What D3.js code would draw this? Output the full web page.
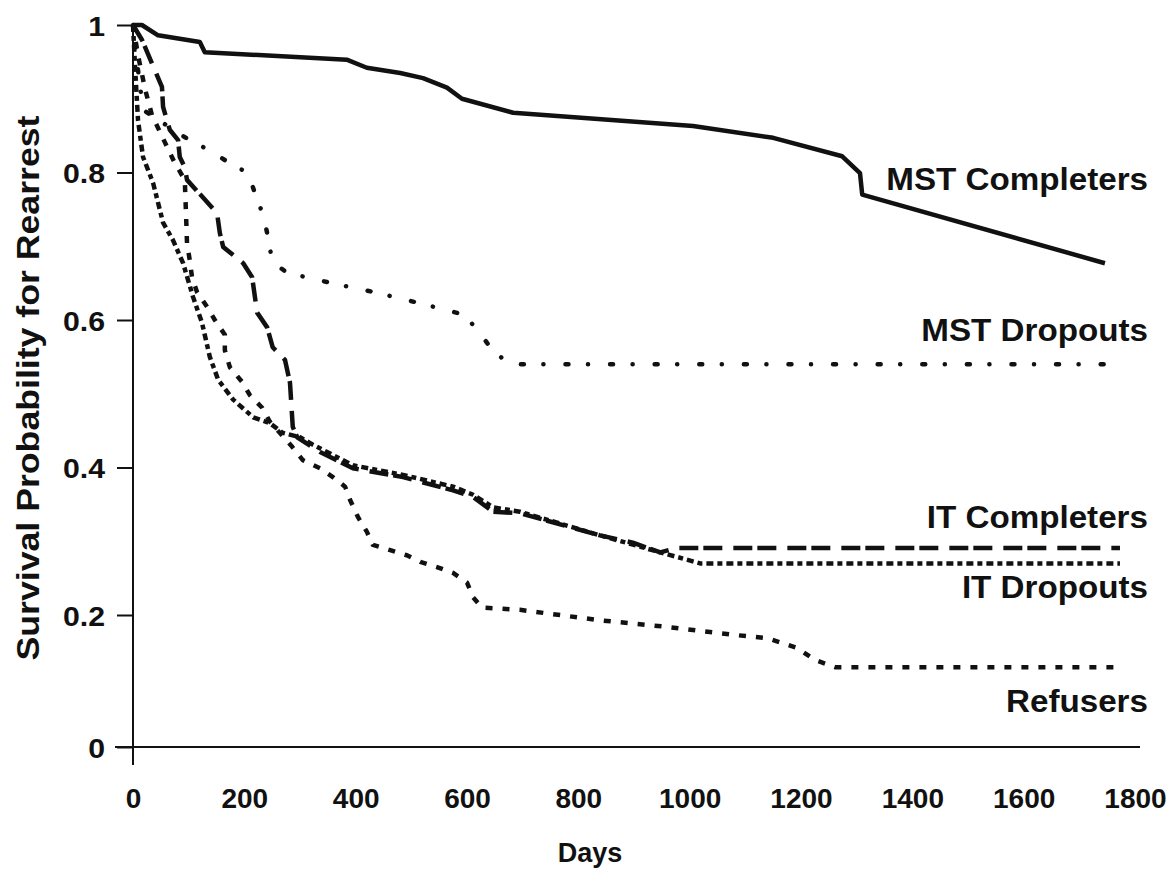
<!DOCTYPE html>
<html>
<head>
<meta charset="utf-8">
<script src="https://cdn.jsdelivr.net/npm/d3@7/dist/d3.min.js"></script>
<style>
  body { margin: 0; background: #fff; }
  text { font-family: "Liberation Sans", Arial, sans-serif; font-weight: bold; fill: #111; }
</style>
</head>
<body>
<div class="div-chart"></div>
<script>
// axis ticks
const xTicks = [0, 200, 400, 600, 800, 1000, 1200, 1400, 1600, 1800];
const yTicks = [0, 0.2, 0.4, 0.6, 0.8, 1];

// survival curves: [days, survival probability]
const mstCompleters = [
  [0, 1], [16, 1], [45, 0.986], [120, 0.977], [129, 0.963], [384, 0.953],
  [420, 0.942], [480, 0.935], [521, 0.928], [564, 0.915], [591, 0.9],
  [683, 0.881], [1006, 0.863], [1150, 0.847], [1274, 0.822], [1306, 0.799],
  [1310, 0.77], [1746, 0.677]
];
const mstDropouts = [
  [0, 1], [9, 0.939], [18, 0.885], [34, 0.877], [99, 0.845], [135, 0.831],
  [171, 0.814], [207, 0.799], [219, 0.772], [234, 0.742], [243, 0.711],
  [250, 0.679], [277, 0.664], [357, 0.65], [438, 0.637], [519, 0.622],
  [596, 0.607], [623, 0.582], [647, 0.558], [677, 0.54], [1764, 0.54]
];
const itCompleters = [
  [0, 1], [16, 0.98], [34, 0.948], [52, 0.916], [54, 0.889], [61, 0.871],
  [66, 0.858], [81, 0.844], [84, 0.821], [93, 0.807], [97, 0.79], [115, 0.775],
  [151, 0.745], [156, 0.718], [162, 0.699], [198, 0.677], [214, 0.658],
  [223, 0.61], [241, 0.59], [251, 0.563], [273, 0.546], [282, 0.515],
  [287, 0.455], [295, 0.441], [336, 0.421], [395, 0.399], [485, 0.387],
  [575, 0.369], [611, 0.36], [647, 0.34], [695, 0.338], [839, 0.308],
  [898, 0.298], [947, 0.285], [977, 0.291], [1773, 0.291]
];
const itDropouts = [
  [0, 1], [4, 0.939], [9, 0.871], [18, 0.821], [36, 0.786], [54, 0.732],
  [72, 0.708], [90, 0.677], [108, 0.631], [124, 0.596], [138, 0.55],
  [153, 0.519], [180, 0.492], [216, 0.468], [246, 0.46], [269, 0.447],
  [300, 0.441], [323, 0.431], [395, 0.403], [485, 0.39], [575, 0.374],
  [611, 0.363], [647, 0.346], [695, 0.34], [839, 0.308], [947, 0.285],
  [1019, 0.27], [1773, 0.27]
];
const refusers = [
  [0, 1], [9, 0.959], [22, 0.912], [34, 0.878], [49, 0.854], [75, 0.813],
  [93, 0.79], [95, 0.749], [97, 0.704], [102, 0.681], [106, 0.658],
  [115, 0.638], [133, 0.618], [147, 0.6], [165, 0.58], [165, 0.559],
  [174, 0.536], [196, 0.516], [210, 0.498], [232, 0.481], [246, 0.462],
  [286, 0.428], [305, 0.41], [336, 0.399], [359, 0.387], [381, 0.374],
  [390, 0.356], [404, 0.333], [420, 0.313], [431, 0.295], [462, 0.288],
  [492, 0.281], [516, 0.272], [546, 0.265], [575, 0.257], [600, 0.244],
  [611, 0.224], [627, 0.21], [695, 0.207], [839, 0.192], [959, 0.182],
  [1078, 0.17], [1139, 0.165], [1193, 0.15], [1225, 0.132], [1261, 0.121],
  [1773, 0.121]
];
const seriesNames = ["MST Completers", "MST Dropouts", "IT Completers", "IT Dropouts", "Refusers"];
const xTitle = "Days";
const yTitle = "Survival Probability for Rearrest";

const width = 1171,
  height = 870;

const svg = d3
  .select(".div-chart")
  .append("svg")
  .attr("width", width)
  .attr("height", height)
  .attr("viewBox", `0 0 ${width} ${height}`);

const x = d3.scaleLinear().domain([0, 1800]).range([133, 1135]);
// the scanned axis is slightly stretched above 0.2, so use a piecewise scale
const y = d3.scaleLinear().domain([0, 0.2, 1]).range([747, 615, 25]);

// the scanned lettering is a bit wider than Liberation Sans, stretch it a little
function widen(sel, k) {
  sel.each(function () {
    const w = this.getComputedTextLength();
    d3.select(this).attr("textLength", w * k).attr("lengthAdjust", "spacingAndGlyphs");
  });
}

// axis lines
svg.append("line")
  .attr("x1", x(0)).attr("x2", x(0))
  .attr("y1", y(1)).attr("y2", y(0) + 18)
  .attr("stroke", "#111").attr("stroke-width", 2);
svg.append("line")
  .attr("x1", x(0) - 18).attr("x2", 1140)
  .attr("y1", y(0)).attr("y2", y(0))
  .attr("stroke", "#111").attr("stroke-width", 2);

const yAxis = svg.append("g")
  .attr("transform", `translate(${x(0)},0)`)
  .call(d3.axisLeft(y).tickValues(yTicks).tickSize(16).tickPadding(12).tickFormat((d) => d));
yAxis.select(".domain").remove();
yAxis.selectAll("line").attr("stroke", "#111").attr("stroke-width", 2);
yAxis.selectAll("text").style("font-size", "28px").attr("dy", "0.36em");
widen(yAxis.selectAll("text"), 1.08);

const xAxis = svg.append("g")
  .attr("transform", `translate(0,${y(0)})`)
  .call(d3.axisBottom(x).tickValues(xTicks).tickSize(0).tickPadding(41).tickFormat((d) => d));
xAxis.select(".domain").remove();
xAxis.selectAll("text").style("font-size", "28px");

svg.append("text")
  .attr("x", 590).attr("y", 862)
  .attr("text-anchor", "middle")
  .style("font-size", "27px")
  .text(xTitle);

svg.append("text")
  .attr("transform", `translate(39,388) rotate(-90)`)
  .attr("text-anchor", "middle")
  .style("font-size", "32px")
  .text(yTitle)
  .attr("textLength", 545)
  .attr("lengthAdjust", "spacingAndGlyphs");

// curves
const line = d3.line().x((d) => x(d[0])).y((d) => y(d[1]));
const curves = [
  { data: mstCompleters, dash: null, w: 4.5, cap: "butt" },
  { data: mstDropouts, dash: "3 19.5 0.1 22", w: 4.5, cap: "round" },
  { data: itCompleters, dash: "19 5 19 11", w: 4.5, cap: "butt" },
  { data: itDropouts, dash: "7 4 5 4", w: 4.5, cap: "butt" },
  { data: refusers, dash: "7 10", w: 4.5, cap: "butt" }
];
svg.append("g")
  .selectAll("path")
  .data(curves)
  .join("path")
  .attr("d", (d) => line(d.data))
  .attr("fill", "none")
  .attr("stroke", "#111")
  .attr("stroke-width", (d) => d.w)
  .attr("stroke-linecap", (d) => d.cap)
  .attr("stroke-linejoin", "round")
  .attr("stroke-dasharray", (d) => d.dash);

// curve labels
const labelY = [190, 341, 528, 598, 712];
const labels = svg.append("g")
  .selectAll("text")
  .data(seriesNames)
  .join("text")
  .attr("x", 1148)
  .attr("y", (d, i) => labelY[i])
  .attr("text-anchor", "end")
  .style("font-size", "31px")
  .text((d) => d);
widen(labels, 1.07);
</script>
</body>
</html>
